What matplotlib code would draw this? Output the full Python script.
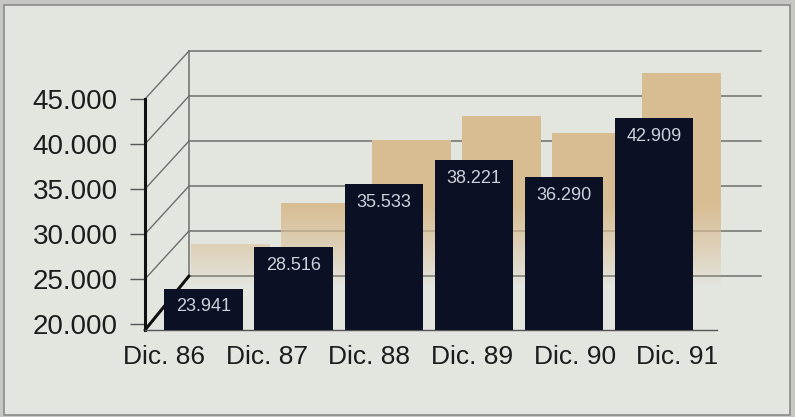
import matplotlib.pyplot as plt
import matplotlib.transforms as mtransforms
from matplotlib.patches import Rectangle, ConnectionPatch
import numpy as np

plt.rcParams['font.family'] = ['Liberation Sans', 'DejaVu Sans']

years = ['Dic. 86', 'Dic. 87', 'Dic. 88', 'Dic. 89', 'Dic. 90', 'Dic. 91']
values = [23941, 28516, 35533, 38221, 36290, 42909]
value_labels = ['23.941', '28.516', '35.533', '38.221', '36.290', '42.909']
y_ticks = [20000, 25000, 30000, 35000, 40000, 45000]
y_tick_labels = ['20.000', '25.000', '30.000', '35.000', '40.000', '45.000']

BG = '#e3e5df'
NAVY = '#0c1024'
TAN = (0.85, 0.745, 0.58)
FLOOR = 19333   # front floor sits a bit below the 20.000 tick
W = 0.87

fig = plt.figure(figsize=(7.95, 4.17), dpi=100)
fig.patch.set_facecolor('#c6c7c2')
fig.add_artist(Rectangle((4/795, 2/417), 786/795, 410/417, transform=fig.transFigure,
                         facecolor=BG, edgecolor='#8b8c88', lw=1.2, zorder=-1))

ax = fig.add_axes([145/795, 87/417, 572/795, 231/417])
ax.set_facecolor('none')
x = np.arange(len(values))
xlim = (-0.65, 5.7)

# back wall and shadow planes are shifted copies of the data space
back = ax.transData + mtransforms.ScaledTranslation(0.44, 0.48, fig.dpi_scale_trans)
shadow = ax.transData + mtransforms.ScaledTranslation(0.27, 0.44, fig.dpi_scale_trans)

for t in y_ticks:
    ax.plot(xlim, [t, t], transform=back, color='#6e6f6c', lw=1.1, clip_on=False, zorder=1)
ax.plot([xlim[0]] * 2, [y_ticks[0], y_ticks[-1]], transform=back, color='#6e6f6c',
        lw=1.1, clip_on=False, zorder=1)
for t in y_ticks[1:]:
    con = ConnectionPatch(xyA=(xlim[0], t), coordsA=ax.transData, xyB=(xlim[0], t), coordsB=back,
                          color='#6e6f6c', lw=1.0, zorder=1)
    ax.add_artist(con)
con = ConnectionPatch(xyA=(xlim[0], FLOOR), coordsA=ax.transData, xyB=(xlim[0], y_ticks[0]),
                      coordsB=back, color='#111111', lw=2.2, zorder=1)
ax.add_artist(con)

# tan shadow bars fading toward the floor
for xi, v in zip(x, values):
    vals = np.linspace(v, FLOOR, 200)
    rgba = np.zeros((200, 1, 4))
    rgba[..., :3] = TAN
    rgba[:, 0, 3] = np.clip((vals - FLOOR) / 9000, 0, 1) ** 0.9
    im = ax.imshow(rgba, extent=(xi - W/2, xi + W/2, FLOOR, v), aspect='auto',
                   interpolation='bilinear', zorder=2)
    im.set_transform(shadow)
    im.set_clip_on(False)

ax.bar(x, np.array(values) - FLOOR, bottom=FLOOR, width=W, color=NAVY, zorder=3)
for xi, v, lbl in zip(x, values, value_labels):
    ax.annotate(lbl, (xi, v), xytext=(0, -7), textcoords='offset points', ha='center',
                va='top', color='#cdd1da', fontsize=13, zorder=4)

ax.set_xlim(xlim)
ax.set_ylim(FLOOR, 45000)
ax.set_yticks(y_ticks, y_tick_labels)
label_pos = np.arange(len(years)) * 1.14 - 0.44
ax.set_xticks(label_pos, years)
ax.tick_params(axis='y', length=11, width=1, color='#555555', pad=8.5, labelsize=20,
               labelcolor='#1c1c1c')
ax.tick_params(axis='x', length=0, pad=11, labelsize=19, labelcolor='#1c1c1c')
ax.spines['top'].set_visible(False)
ax.spines['right'].set_visible(False)
ax.spines['left'].set_linewidth(2.2)
ax.spines['left'].set_color('#111111')
ax.spines['bottom'].set_linewidth(1)
ax.spines['bottom'].set_color('#555555')

fig.savefig('out.png', dpi=100, facecolor=fig.get_facecolor())
